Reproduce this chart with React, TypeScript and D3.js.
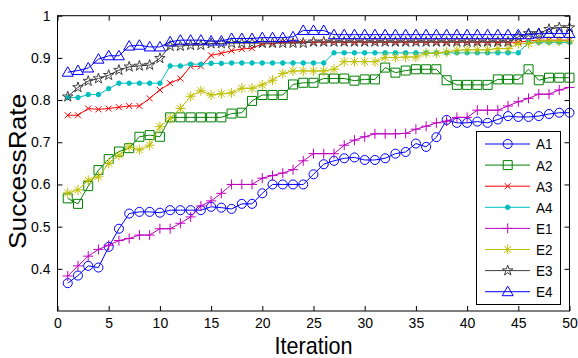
import { useEffect, useRef } from "react";
import * as d3 from "d3";

const iterations = Array.from({ length: 50 }, (_, i) => i + 1);

const xTicks = [0, 5, 10, 15, 20, 25, 30, 35, 40, 45, 50];
const yTicks = [0.4, 0.5, 0.6, 0.7, 0.8, 0.9, 1];

const A1 = [
  0.366, 0.384, 0.407, 0.403, 0.452, 0.495, 0.531, 0.535, 0.535, 0.533,
  0.539, 0.539, 0.539, 0.539, 0.547, 0.545, 0.542, 0.554, 0.554, 0.579,
  0.6, 0.6, 0.6, 0.6, 0.624, 0.648, 0.656, 0.662, 0.664, 0.658,
  0.658, 0.662, 0.673, 0.677, 0.697, 0.689, 0.712, 0.753, 0.746, 0.746,
  0.749, 0.746, 0.754, 0.762, 0.76, 0.76, 0.762, 0.767, 0.77, 0.77,
];
const A2 = [
  0.567, 0.554, 0.596, 0.634, 0.66, 0.678, 0.686, 0.713, 0.717, 0.713,
  0.759, 0.759, 0.759, 0.759, 0.759, 0.759, 0.768, 0.77, 0.798, 0.812,
  0.812, 0.812, 0.837, 0.841, 0.841, 0.851, 0.851, 0.851, 0.846, 0.849,
  0.849, 0.877, 0.865, 0.87, 0.873, 0.873, 0.873, 0.847, 0.836, 0.836,
  0.836, 0.836, 0.849, 0.849, 0.849, 0.873, 0.847, 0.853, 0.853, 0.853,
];
const A3 = [
  0.764, 0.764, 0.78, 0.778, 0.78, 0.783, 0.786, 0.786, 0.804, 0.824,
  0.84, 0.851, 0.88, 0.88, 0.906, 0.911, 0.917, 0.921, 0.923, 0.933,
  0.934, 0.937, 0.937, 0.937, 0.937, 0.937, 0.937, 0.937, 0.937, 0.937,
  0.937, 0.937, 0.937, 0.937, 0.937, 0.937, 0.937, 0.937, 0.937, 0.937,
  0.937, 0.937, 0.937, 0.937, 0.937, 0.94, 0.942, 0.942, 0.942, 0.942,
];
const A4 = [
  0.806, 0.806, 0.813, 0.813, 0.827, 0.84, 0.84, 0.84, 0.84, 0.84,
  0.881, 0.881, 0.885, 0.885, 0.887, 0.887, 0.888, 0.888, 0.888, 0.888,
  0.888, 0.888, 0.888, 0.888, 0.888, 0.888, 0.912, 0.912, 0.912, 0.912,
  0.912, 0.912, 0.912, 0.912, 0.912, 0.912, 0.912, 0.912, 0.912, 0.912,
  0.912, 0.912, 0.912, 0.912, 0.912, 0.937, 0.937, 0.937, 0.937, 0.937,
];
const E1 = [
  0.383, 0.407, 0.43, 0.446, 0.456, 0.467, 0.472, 0.48, 0.48, 0.495,
  0.495, 0.508, 0.523, 0.549, 0.561, 0.579, 0.6, 0.6, 0.6, 0.615,
  0.621, 0.627, 0.635, 0.656, 0.673, 0.673, 0.673, 0.693, 0.705, 0.713,
  0.72, 0.72, 0.72, 0.721, 0.731, 0.738, 0.746, 0.75, 0.759, 0.759,
  0.776, 0.776, 0.776, 0.786, 0.796, 0.804, 0.814, 0.814, 0.824, 0.83,
];
const E2 = [
  0.58, 0.587, 0.61, 0.618, 0.65, 0.669, 0.689, 0.682, 0.693, 0.737,
  0.757, 0.78, 0.809, 0.822, 0.812, 0.815, 0.817, 0.828, 0.828, 0.836,
  0.847, 0.863, 0.869, 0.869, 0.869, 0.869, 0.873, 0.891, 0.891, 0.891,
  0.891, 0.901, 0.901, 0.902, 0.902, 0.911, 0.911, 0.914, 0.918, 0.919,
  0.919, 0.919, 0.922, 0.922, 0.934, 0.934, 0.94, 0.94, 0.94, 0.94,
];
const E3 = [
  0.808, 0.83, 0.845, 0.851, 0.859, 0.871, 0.879, 0.881, 0.883, 0.899,
  0.928, 0.928, 0.93, 0.93, 0.934, 0.934, 0.935, 0.935, 0.935, 0.935,
  0.935, 0.935, 0.935, 0.935, 0.938, 0.938, 0.938, 0.938, 0.938, 0.938,
  0.938, 0.938, 0.938, 0.938, 0.938, 0.938, 0.938, 0.938, 0.938, 0.938,
  0.938, 0.938, 0.938, 0.938, 0.95, 0.958, 0.958, 0.968, 0.972, 0.972,
];
const E4 = [
  0.866, 0.87, 0.876, 0.897, 0.905, 0.905, 0.928, 0.93, 0.926, 0.926,
  0.938, 0.942, 0.942, 0.942, 0.94, 0.94, 0.946, 0.946, 0.946, 0.948,
  0.948, 0.948, 0.95, 0.965, 0.965, 0.965, 0.955, 0.955, 0.955, 0.955,
  0.955, 0.955, 0.955, 0.955, 0.955, 0.955, 0.955, 0.955, 0.955, 0.955,
  0.955, 0.955, 0.955, 0.955, 0.955, 0.955, 0.957, 0.958, 0.958, 0.958,
];

const seriesNames = ["A1", "A2", "A3", "A4", "E1", "E2", "E3", "E4"];
const seriesValues = [A1, A2, A3, A4, E1, E2, E3, E4];
const seriesColors = ["#0000ff", "#008000", "#ff0000", "#00bfbf", "#bf00bf", "#bfbf00", "#404040", "#0000ff"];
const seriesMarkers = ["circle", "square", "x", "dot", "plus", "asterisk", "star", "triangle"];

const W = 578;
const H = 358;
const FONT = "'Liberation Sans', Arial, sans-serif";

// marker glyphs centred on 0,0
const markerPath = (m: string) => {
  switch (m) {
    case "circle":
      return d3.symbol(d3.symbolCircle, 64)();
    case "square":
      return "M-4.5,-4.5H4.5V4.5H-4.5Z";
    case "triangle":
      return "M0,-5.5L5.5,4L-5.5,4Z";
    case "x":
      return "M-3,-3L3,3M-3,3L3,-3";
    case "plus":
      return "M-5,0H5M0,-5V5";
    case "asterisk":
      return "M-5,0H5M0,-5V5M-3.5,-3.5L3.5,3.5M-3.5,3.5L3.5,-3.5";
    case "star":
      return d3.symbol(d3.symbolStar, 34)();
    default:
      return d3.symbol(d3.symbolCircle, 16)();
  }
};

const App = () => {
  const svgRef = useRef<SVGSVGElement | null>(null);

  useEffect(() => {
    const svg = d3.select(svgRef.current);
    svg.selectAll("*").remove();

    const margin = { top: 15.7, right: 8.5, bottom: 47, left: 57.5 };
    const x = d3.scaleLinear().domain([0, 50]).range([margin.left, W - margin.right]);
    const y = d3.scaleLinear().domain([0.3, 1]).range([H - margin.bottom, margin.top]);

    svg.append("rect").attr("width", W).attr("height", H).attr("fill", "#fff");

    const styleAxis = (ax: any) => {
      ax.select(".domain").remove();
      ax.selectAll("line").attr("stroke", "#000");
      ax.selectAll("text")
        .attr("fill", "#000")
        .style("font-family", FONT)
        .style("font-size", "14px");
    };

    svg.append("g")
      .attr("transform", `translate(0,${y(0.3)})`)
      .call(d3.axisBottom(x).tickValues(xTicks).tickSize(-5).tickPadding(7))
      .call(styleAxis);
    svg.append("g")
      .attr("transform", `translate(0,${y(1)})`)
      .call(d3.axisTop(x).tickValues(xTicks).tickSize(-5).tickFormat(() => ""))
      .call(styleAxis);
    svg.append("g")
      .attr("transform", `translate(${x(0)},0)`)
      .call(d3.axisLeft(y).tickValues(yTicks).tickSize(-5).tickPadding(7).tickFormat(d3.format("")))
      .call(styleAxis);
    svg.append("g")
      .attr("transform", `translate(${x(50)},0)`)
      .call(d3.axisRight(y).tickValues(yTicks).tickSize(-5).tickFormat(() => ""))
      .call(styleAxis);

    const plot = svg.append("g");
    const line = d3
      .line<number>()
      .x((_, i) => x(iterations[i]))
      .y((d) => y(d));

    seriesValues.forEach((vals, k) => {
      const color = seriesColors[k];
      const marker = seriesMarkers[k];
      plot.append("path")
        .datum(vals)
        .attr("fill", "none")
        .attr("stroke", color)
        .attr("stroke-width", 1)
        .attr("d", line);
      plot.selectAll(`.m-${k}`)
        .data(vals)
        .enter()
        .append("path")
        .attr("class", `m-${k}`)
        .attr("transform", (d, i) => `translate(${x(iterations[i])},${y(d)})`)
        .attr("d", markerPath(marker))
        .attr("fill", marker === "dot" ? color : "none")
        .attr("stroke", color)
        .attr("stroke-width", 1);
    });

    // frame
    svg.append("rect")
      .attr("x", x(0))
      .attr("y", y(1))
      .attr("width", x(50) - x(0))
      .attr("height", y(0.3) - y(1))
      .attr("fill", "none")
      .attr("stroke", "#000");

    // legend
    const lg = svg.append("g");
    lg.append("rect")
      .attr("x", 476.5)
      .attr("y", 131.5)
      .attr("width", 84)
      .attr("height", 173)
      .attr("fill", "#fff")
      .attr("stroke", "#000");
    seriesNames.forEach((name, k) => {
      const ly = 144 + k * 21.1;
      lg.append("line")
        .attr("x1", 485).attr("x2", 530)
        .attr("y1", ly).attr("y2", ly)
        .attr("stroke", seriesColors[k]);
      lg.append("path")
        .attr("transform", `translate(507.7,${ly})`)
        .attr("d", markerPath(seriesMarkers[k]))
        .attr("fill", seriesMarkers[k] === "dot" ? seriesColors[k] : "none")
        .attr("stroke", seriesColors[k]);
      lg.append("text")
        .attr("transform", `translate(536,${ly}) scale(0.9,1)`)
        .attr("dy", "0.36em")
        .style("font-family", FONT)
        .style("font-size", "15px")
        .text(name);
    });

    svg.append("text")
      .attr("transform", `translate(${(x(0) + x(50)) / 2},354) scale(0.9,1)`)
      .attr("text-anchor", "middle")
      .style("font-family", FONT)
      .style("font-size", "24px")
      .text("Iteration");

    svg.append("text")
      .attr("transform", `translate(26,${(y(0.3) + y(1)) / 2 + 8}) rotate(-90) scale(1.1,1)`)
      .attr("text-anchor", "middle")
      .style("font-family", FONT)
      .style("font-size", "24px")
      .text("SuccessRate");
  }, []);

  return (
    <svg
      ref={svgRef}
      width={W}
      height={H}
      style={{ position: "absolute", left: 0, top: 0, display: "block" }}
    />
  );
};

export default App;
